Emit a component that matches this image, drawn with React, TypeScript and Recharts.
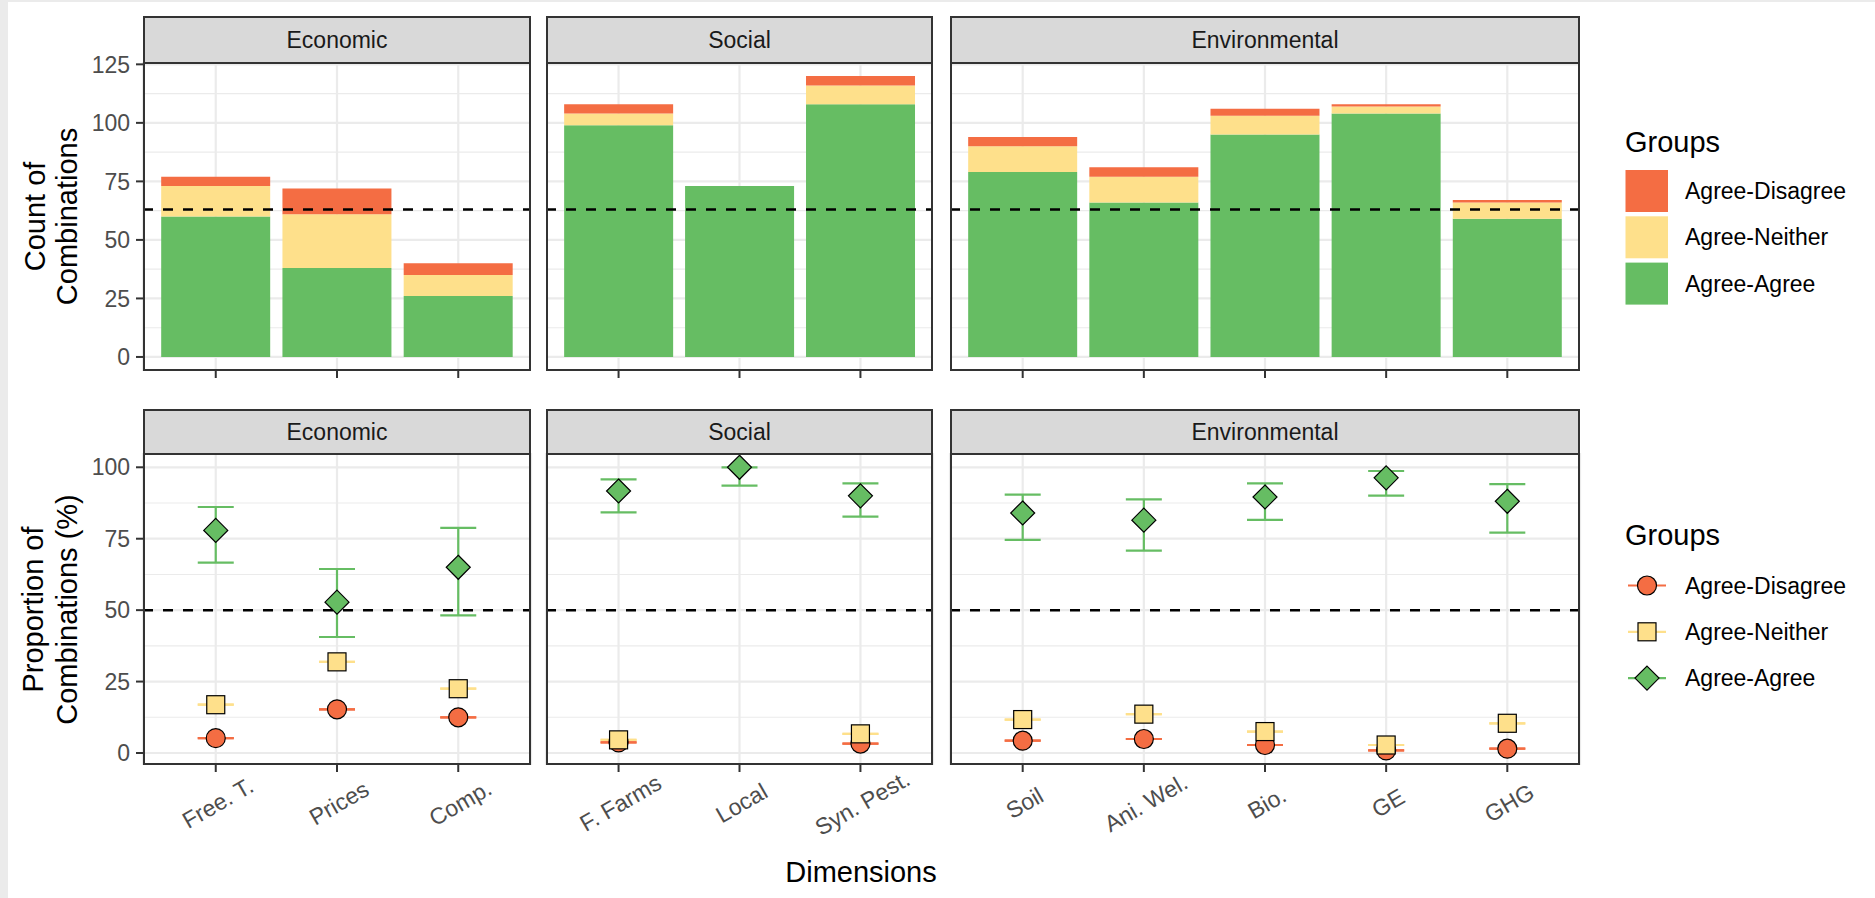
import React from 'react';
import {
  BarChart, Bar, ComposedChart, Line, ErrorBar, XAxis, YAxis, CartesianGrid, ReferenceLine,
} from 'recharts';

// groups, bottom to top of each stack
const groupNames = ['Agree-Disagree', 'Agree-Neither', 'Agree-Agree'];
const groupColors = ['#F46D43', '#FEE08B', '#66BD63'];
const groupShapes = ['circle', 'square', 'diamond'];

const dimensionNames = ['Economic', 'Social', 'Environmental'];

const economicLabels = ['Free. T.', 'Prices', 'Comp.'];
const socialLabels = ['F. Farms', 'Local', 'Syn. Pest.'];
const environmentalLabels = ['Soil', 'Ani. Wel.', 'Bio.', 'GE', 'GHG'];

// count of combinations
const economicAgreeCount = [60, 38, 26];
const economicNeitherCount = [13, 23, 9];
const economicDisagreeCount = [4, 11, 5];
const socialAgreeCount = [99, 73, 108];
const socialNeitherCount = [5, 0, 8];
const socialDisagreeCount = [4, 0, 4];
const environmentalAgreeCount = [79, 66, 95, 104, 59];
const environmentalNeitherCount = [11, 11, 8, 3, 7];
const environmentalDisagreeCount = [4, 4, 3, 1, 1];

// proportion of combinations (%)
const economicAgreePct = [77.9, 52.8, 65.0];
const economicAgreeLow = [66.6, 40.6, 48.2];
const economicAgreeHigh = [86.1, 64.4, 78.8];
const economicNeitherPct = [16.9, 31.9, 22.5];
const economicDisagreePct = [5.2, 15.3, 12.5];
const socialAgreePct = [91.7, 100, 90.0];
const socialAgreeLow = [84.2, 93.6, 82.7];
const socialAgreeHigh = [95.8, 100, 94.4];
const socialNeitherPct = [4.6, null, 6.7];
const socialDisagreePct = [3.7, null, 3.3];
const environmentalAgreePct = [84.0, 81.5, 89.6, 96.3, 88.1];
const environmentalAgreeLow = [74.6, 70.8, 81.6, 90.1, 77.1];
const environmentalAgreeHigh = [90.4, 88.8, 94.4, 98.7, 94.1];
const environmentalNeitherPct = [11.7, 13.6, 7.5, 2.8, 10.4];
const environmentalDisagreePct = [4.3, 4.9, 2.8, 0.9, 1.5];

const countTicks = [0, 25, 50, 75, 100, 125];
const countMinor = [12.5, 37.5, 62.5, 87.5, 112.5];
const pctTicks = [0, 25, 50, 75, 100];
const pctMinor = [12.5, 37.5, 62.5, 87.5];
const countThreshold = 63;
const pctThreshold = 50;

type Num = number | null;

function countRows(labels: string[], agree: number[], neither: number[], disagree: number[]) {
  return labels.map((label, i) => ({ label, agree: agree[i], neither: neither[i], disagree: disagree[i] }));
}

function pctRows(labels: string[], agree: number[], low: number[], high: number[], neither: Num[], disagree: Num[]) {
  return labels.map((label, i) => ({
    label,
    agree: agree[i],
    agreeErr: [agree[i] - low[i], high[i] - agree[i]],
    neither: neither[i],
    neitherErr: neither[i] == null ? null : [0, 0],
    disagree: disagree[i],
    disagreeErr: disagree[i] == null ? null : [0, 0],
  }));
}

const facets = [
  {
    name: dimensionNames[0],
    counts: countRows(economicLabels, economicAgreeCount, economicNeitherCount, economicDisagreeCount),
    pcts: pctRows(economicLabels, economicAgreePct, economicAgreeLow, economicAgreeHigh, economicNeitherPct, economicDisagreePct),
  },
  {
    name: dimensionNames[1],
    counts: countRows(socialLabels, socialAgreeCount, socialNeitherCount, socialDisagreeCount),
    pcts: pctRows(socialLabels, socialAgreePct, socialAgreeLow, socialAgreeHigh, socialNeitherPct, socialDisagreePct),
  },
  {
    name: dimensionNames[2],
    counts: countRows(environmentalLabels, environmentalAgreeCount, environmentalNeitherCount, environmentalDisagreeCount),
    pcts: pctRows(environmentalLabels, environmentalAgreePct, environmentalAgreeLow, environmentalAgreeHigh, environmentalNeitherPct, environmentalDisagreePct),
  },
];

const FONT = '"Liberation Sans", Arial, Helvetica, sans-serif';
const COLS = [{ left: 143, width: 388 }, { left: 546, width: 387 }, { left: 950, width: 630 }];
const TOP = { strip: 16, plot: 62, bottom: 371 };
const BOT = { strip: 409, plot: 453, bottom: 765 };
const YW = 143; // y axis width of first column
const PAD_TOP = 14;
const SIDE = 70; // room for rotated tick labels
const GRID = '#EBEBEB';
const DARK = '#333333';

function Marker({ kind, x, y, fill }: { kind: string; x: number; y: number; fill: string }) {
  if (kind === 'circle') return <circle cx={x} cy={y} r={9.5} fill={fill} stroke="#000" strokeWidth={1.2} />;
  if (kind === 'square') return <rect x={x - 9} y={y - 9} width={18} height={18} fill={fill} stroke="#000" strokeWidth={1.2} />;
  return (
    <polygon points={`${x},${y - 12} ${x + 12},${y} ${x},${y + 12} ${x - 12},${y}`} fill={fill} stroke="#000" strokeWidth={1.2} />
  );
}

const dotRenderer = (kind: string, fill: string) => (p: any) => {
  if (p.cx == null || p.cy == null || p.value == null) return <g key={p.key} />;
  return <g key={p.key}><Marker kind={kind} x={p.cx} y={p.cy} fill={fill} /></g>;
};

const EmptyTick = () => <g />;

const RotatedTick = (p: any) => {
  const cx = p.x + 2;
  const cy = p.y + 31;
  return (
    <text x={cx} y={cy} textAnchor="middle" dominantBaseline="central" fontSize={23} fontFamily={FONT} fill="#4D4D4D"
      transform={`rotate(-30 ${cx} ${cy})`}>
      {p.payload.value}
    </text>
  );
};

// ggplot discrete expansion: 0.6 of a category step on each side
function bandPadding(width: number, n: number) {
  const unit = width / (n + 0.2);
  return { left: unit * 0.1, right: unit * 0.1 };
}
function pointPadding(width: number, n: number) {
  const unit = width / (n + 0.2);
  return { left: unit * 0.6, right: unit * 0.6 };
}

function CountPanel({ i }: { i: number }) {
  const col = COLS[i];
  const f = facets[i];
  const first = i === 0;
  const h = TOP.bottom - TOP.plot;
  return (
    <div style={{ position: 'absolute', left: first ? col.left - YW : col.left, top: TOP.plot - PAD_TOP }}>
      <BarChart width={col.width + (first ? YW : 0)} height={h + PAD_TOP + 12} data={f.counts}
        margin={{ top: PAD_TOP, right: 0, bottom: 0, left: 0 }} barCategoryGap="5%">
        <CartesianGrid horizontalValues={countMinor} vertical={false} stroke={GRID} strokeWidth={1.1} />
        <CartesianGrid horizontalValues={countTicks} stroke={GRID} strokeWidth={2.2} />
        <XAxis dataKey="label" type="category" padding={bandPadding(col.width, f.counts.length)} height={12}
          axisLine={false} tickSize={7} tickLine={{ stroke: DARK, strokeWidth: 2 }} tick={EmptyTick} interval={0} />
        <YAxis type="number" domain={[-6, 126]} ticks={countTicks} hide={!first} width={YW} axisLine={false}
          tickSize={7} tickMargin={6} tickLine={{ stroke: DARK, strokeWidth: 2 }}
          tick={{ fill: '#4D4D4D', fontSize: 23, fontFamily: FONT }} allowDataOverflow />
        <Bar dataKey="agree" stackId="s" fill={groupColors[2]} isAnimationActive={false} />
        <Bar dataKey="neither" stackId="s" fill={groupColors[1]} isAnimationActive={false} />
        <Bar dataKey="disagree" stackId="s" fill={groupColors[0]} isAnimationActive={false} />
        <ReferenceLine y={countThreshold} stroke="#000" strokeWidth={2.5} strokeDasharray="10 10" />
      </BarChart>
    </div>
  );
}

function PctPanel({ i }: { i: number }) {
  const col = COLS[i];
  const f = facets[i];
  const first = i === 0;
  const h = BOT.bottom - BOT.plot;
  const leftSpace = first ? 0 : SIDE;
  return (
    <div style={{ position: 'absolute', left: first ? col.left - YW : col.left - SIDE, top: BOT.plot - PAD_TOP }}>
      <ComposedChart width={col.width + (first ? YW : SIDE) + SIDE} height={h + PAD_TOP + 110} data={f.pcts}
        margin={{ top: PAD_TOP, right: SIDE, bottom: 0, left: leftSpace }}>
        <CartesianGrid horizontalValues={pctMinor} vertical={false} stroke={GRID} strokeWidth={1.1} />
        <CartesianGrid horizontalValues={pctTicks} stroke={GRID} strokeWidth={2.2} />
        <XAxis dataKey="label" type="category" padding={pointPadding(col.width, f.pcts.length)} height={110}
          axisLine={false} tickSize={7} tickMargin={0} tickLine={{ stroke: DARK, strokeWidth: 2 }} tick={RotatedTick} interval={0} />
        <YAxis type="number" domain={[-4.2, 105]} ticks={pctTicks} hide={!first} width={YW} axisLine={false}
          tickSize={7} tickMargin={6} tickLine={{ stroke: DARK, strokeWidth: 2 }}
          tick={{ fill: '#4D4D4D', fontSize: 23, fontFamily: FONT }} allowDataOverflow />
        <Line dataKey="disagree" stroke="none" dot={dotRenderer(groupShapes[0], groupColors[0])} activeDot={false} isAnimationActive={false}>
          <ErrorBar dataKey="disagreeErr" width={18} stroke={groupColors[0]} strokeWidth={2.2} direction="y" />
        </Line>
        <Line dataKey="neither" stroke="none" dot={dotRenderer(groupShapes[1], groupColors[1])} activeDot={false} isAnimationActive={false}>
          <ErrorBar dataKey="neitherErr" width={18} stroke={groupColors[1]} strokeWidth={2.2} direction="y" />
        </Line>
        <Line dataKey="agree" stroke="none" dot={dotRenderer(groupShapes[2], groupColors[2])} activeDot={false} isAnimationActive={false}>
          <ErrorBar dataKey="agreeErr" width={18} stroke={groupColors[2]} strokeWidth={2.2} direction="y" />
        </Line>
        <ReferenceLine y={pctThreshold} stroke="#000" strokeWidth={2.5} strokeDasharray="10 10" />
      </ComposedChart>
    </div>
  );
}

function Strip({ i, row }: { i: number; row: { strip: number; plot: number } }) {
  const col = COLS[i];
  return (
    <div style={{
      position: 'absolute', left: col.left, top: row.strip, width: col.width, height: row.plot - row.strip,
      boxSizing: 'border-box', border: `2px solid ${DARK}`, borderBottom: 'none', background: '#D9D9D9',
      display: 'flex', alignItems: 'center', justifyContent: 'center',
      fontFamily: FONT, fontSize: 23, color: '#1A1A1A',
    }}>
      {facets[i].name}
    </div>
  );
}

function Border({ i, row }: { i: number; row: { plot: number; bottom: number } }) {
  const col = COLS[i];
  return (
    <div style={{
      position: 'absolute', left: col.left, top: row.plot, width: col.width, height: row.bottom - row.plot,
      boxSizing: 'border-box', border: `2px solid ${DARK}`, pointerEvents: 'none',
    }} />
  );
}

function Overlay() {
  const legendRows = [0, 1, 2];
  return (
    <svg width={1875} height={898} style={{ position: 'absolute', left: 0, top: 0, pointerEvents: 'none' }}
      fontFamily={FONT}>
      <text transform="translate(34.5 216.5) rotate(-90)" textAnchor="middle" dominantBaseline="central" fontSize={29} fill="#000">Count of</text>
      <text transform="translate(66.5 216.5) rotate(-90)" textAnchor="middle" dominantBaseline="central" fontSize={29} fill="#000">Combinations</text>
      <text transform="translate(33 609.5) rotate(-90)" textAnchor="middle" dominantBaseline="central" fontSize={29} fill="#000">Proportion of</text>
      <text transform="translate(66.5 609.5) rotate(-90)" textAnchor="middle" dominantBaseline="central" fontSize={29} fill="#000">Combinations (%)</text>
      <text x={861} y={872} textAnchor="middle" dominantBaseline="central" fontSize={29} fill="#000">Dimensions</text>

      <text x={1625} y={152} fontSize={29} fill="#000">Groups</text>
      {legendRows.map((k) => (
        <g key={`t${k}`}>
          <rect x={1625.5} y={170 + k * 46.3} width={42.5} height={42} fill={groupColors[k]} />
          <text x={1685} y={191 + k * 46.3} dominantBaseline="central" fontSize={23} fill="#000">{groupNames[k]}</text>
        </g>
      ))}

      <text x={1625} y={545} fontSize={29} fill="#000">Groups</text>
      {legendRows.map((k) => (
        <g key={`b${k}`}>
          <line x1={1628} x2={1666} y1={585.5 + k * 46.3} y2={585.5 + k * 46.3} stroke={groupColors[k]} strokeWidth={2.2} />
          <Marker kind={groupShapes[k]} x={1647} y={585.5 + k * 46.3} fill={groupColors[k]} />
          <text x={1685} y={585.5 + k * 46.3} dominantBaseline="central" fontSize={23} fill="#000">{groupNames[k]}</text>
        </g>
      ))}
    </svg>
  );
}

export default function App() {
  const idx = [0, 1, 2];
  return (
    <div style={{ position: 'absolute', left: 0, top: 0, width: 1875, height: 898, background: '#EBEBEB', overflow: 'hidden' }}>
      <div style={{ position: 'absolute', left: 8, top: 2, width: 1867, height: 896, background: '#FFFFFF' }} />
      {idx.map((i) => <CountPanel key={`c${i}`} i={i} />)}
      {idx.map((i) => <PctPanel key={`p${i}`} i={i} />)}
      {idx.map((i) => <Border key={`bt${i}`} i={i} row={TOP} />)}
      {idx.map((i) => <Border key={`bb${i}`} i={i} row={BOT} />)}
      {idx.map((i) => <Strip key={`st${i}`} i={i} row={TOP} />)}
      {idx.map((i) => <Strip key={`sb${i}`} i={i} row={BOT} />)}
      <Overlay />
    </div>
  );
}
